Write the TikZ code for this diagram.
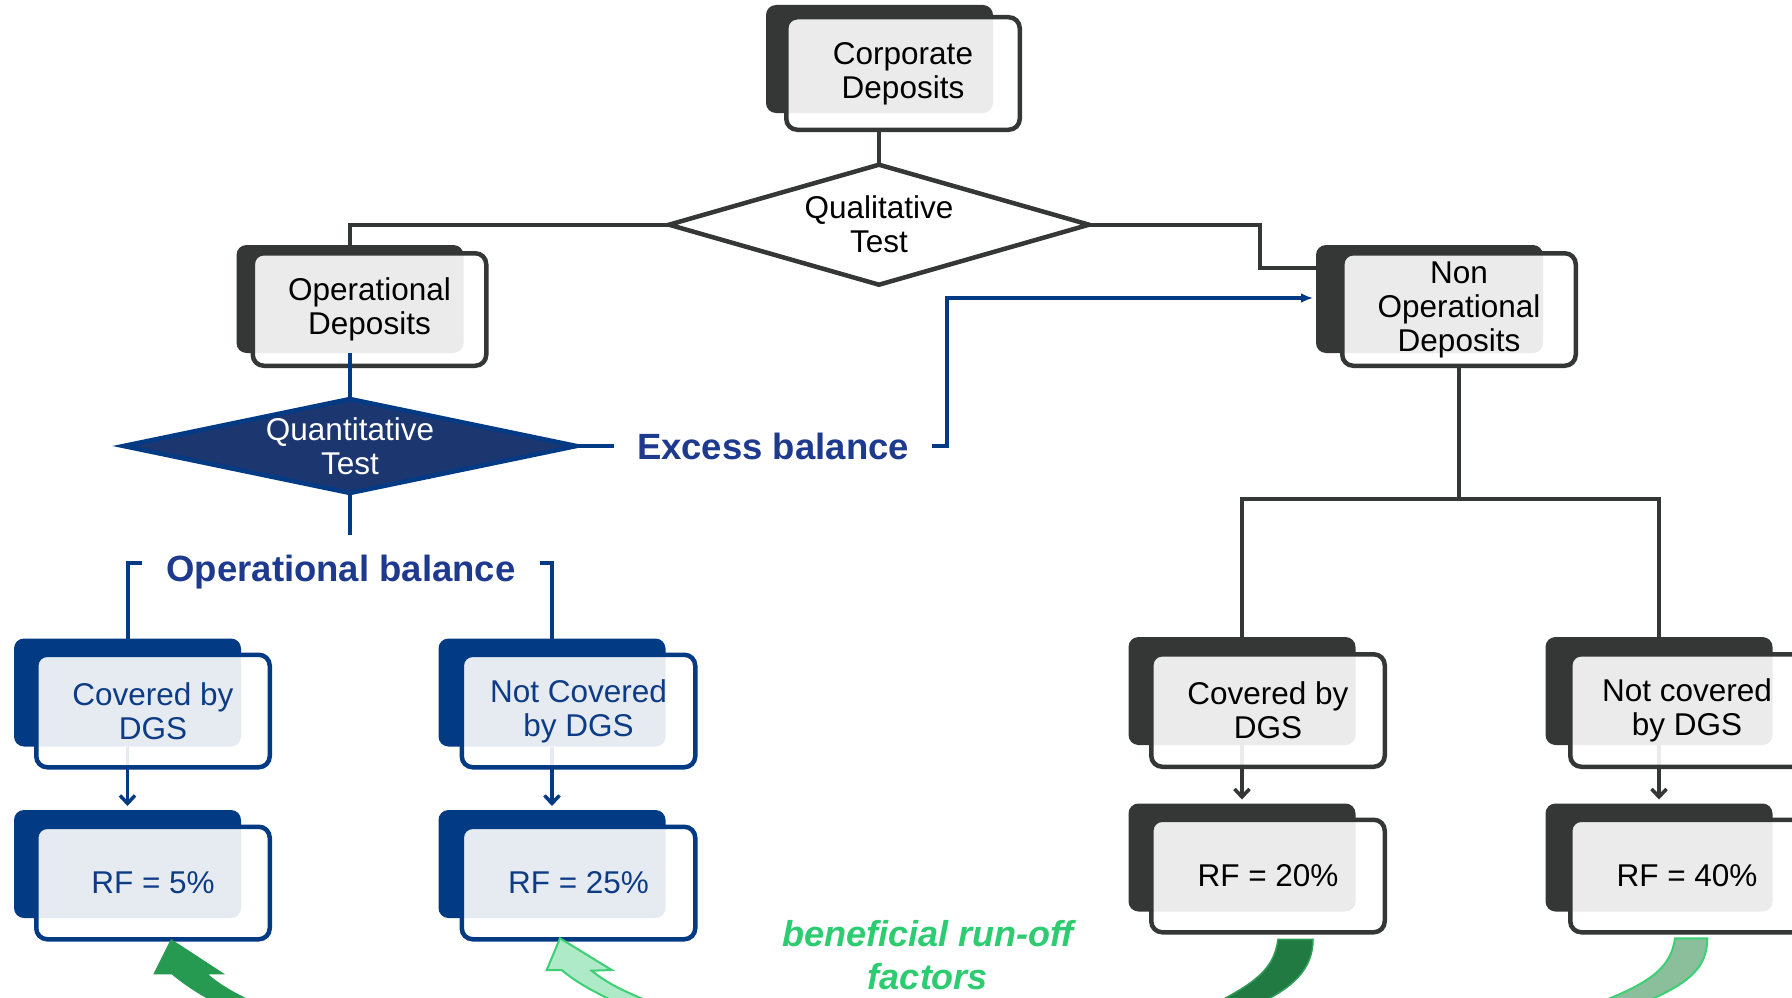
\documentclass[tikz,border=0pt]{standalone}
\usepackage{fontspec}
\setmainfont{Liberation Sans}
\usetikzlibrary{shapes.geometric,arrows.meta,calc}
\definecolor{dk}{HTML}{353636}
\definecolor{bl}{HTML}{023A83}
\definecolor{bltext}{HTML}{0D3B84}
\definecolor{navy}{HTML}{1C3670}
\definecolor{ebtext}{HTML}{1E3A8E}
\definecolor{grtext}{HTML}{2ECC71}
\definecolor{gA}{HTML}{279A52}
\definecolor{gB}{HTML}{AEEAC7}
\definecolor{gBd}{HTML}{3CCF73}
\definecolor{gC}{HTML}{217A42}
\definecolor{gCd}{HTML}{2E9E58}
\definecolor{gD}{HTML}{8BBF9C}
\newcommand\bxfont{\fontsize{31.5}{34}\selectfont}
\newcommand\bgfont{\fontsize{36.5}{40}\selectfont\bfseries}
\pgfdeclarelayer{paper}
\pgfdeclarelayer{back}
\pgfdeclarelayer{conn}
\pgfsetlayers{paper,back,conn,main}
\newcommand\dbox[8]{%
  \begin{pgfonlayer}{back}\node[backbox, fill=#6] (#1b) at (#2,#3) {};\end{pgfonlayer}
  \node[frontbox, draw=#6, text=#7] (#1) at (#4,#5) {#8};}
\tikzset{
  backbox/.style={rounded corners=10pt, minimum width=227pt, minimum height=108pt, inner sep=0pt, outer sep=0pt},
  frontbox/.style={rounded corners=11pt, line width=4.5pt, minimum width=233.5pt, minimum height=112.5pt,
    inner sep=0pt, outer sep=0pt, fill=white, fill opacity=0.9, text opacity=1, align=center, font=\bxfont},
  conn/.style={line width=4pt, draw=dk},
  bconn/.style={line width=4pt, draw=bl},
  barb/.style={-{Straight Barb[length=8pt,width=15pt]}, shorten >=4pt},
}
\begin{document}
\begin{tikzpicture}[x=1pt,y=-1pt]
\useasboundingbox (0,0) rectangle (1792,998);
\begin{pgfonlayer}{paper}
\fill[white] (0,0) rectangle (1792,998);
\end{pgfonlayer}
\clip (0,0) rectangle (1792,998);

% double boxes
\dbox{cd}{879.5}{59}{903}{73.5}{dk}{black}{Corporate\\Deposits}
\dbox{op}{350}{299}{369.5}{309.5}{dk}{black}{Operational\\Deposits}
\dbox{nop}{1429.5}{299}{1459}{309.5}{dk}{black}{Non\\Operational\\Deposits}
\dbox{cov}{127.5}{692.5}{153}{711}{bl}{bltext}{Covered by\\DGS}
\dbox{rfa}{127.5}{864}{153}{883}{bl}{bltext}{RF = 5\%}
\dbox{not}{552}{692.5}{578.5}{711}{bl}{bltext}{Not Covered\\by DGS}
\dbox{rfb}{552}{864}{578.5}{883}{bl}{bltext}{RF = 25\%}
\dbox{gcov}{1242}{691}{1268}{710.5}{dk}{black}{Covered by\\DGS}
\dbox{rfc}{1242}{857.5}{1268}{876}{dk}{black}{RF = 20\%}
\dbox{gnot}{1659}{691}{1687}{710.5}{dk}{black}{Not covered\\by DGS}
\dbox{rfd}{1659}{857.5}{1687}{876}{dk}{black}{RF = 40\%}

% diamonds
\node[diamond, shape aspect=3.43, draw=dk, line width=4.5pt, fill=white, minimum width=420pt,
  minimum height=120pt, inner sep=0pt, outer sep=0pt, align=center, font=\bxfont] (q1) at (879,224.7) {Qualitative\\Test};
\node[diamond, shape aspect=4.6, draw=bl, line width=4.5pt, fill=navy, text=white, minimum width=453pt,
  minimum height=94pt, inner sep=0pt, outer sep=0pt, align=center, font=\bxfont] (qt) at (350,446) {Quantitative\\Test};

% labels
\node[font=\bgfont, text=ebtext, inner xsep=23pt, inner ysep=0pt] (eb) at (773,446) {Excess balance};
\node[font=\bgfont, text=ebtext, inner xsep=24.5pt, inner ysep=0pt] (ob) at (341,572.5) {Operational balance};
\node[font=\fontsize{36}{43}\selectfont\bfseries\itshape, text=grtext, align=center, inner sep=0pt] (bf) at (928,955) {beneficial run-off\\factors};

% blue line from operational deposits
\draw[bconn] (opb.south) -- (qt.north);

% green arrows
\fill[gA] (171,939) -- (225,974.3) -- (208.3,974.3) .. controls (222,986) and (235,993) .. (262,1006)
  -- (232,1012) .. controls (205,998) and (188,988) .. (171.7,974.3) -- (153.3,974.3) -- cycle;
\filldraw[fill=gB, draw=gBd, line width=2pt] (560,938.3) -- (611.7,970) -- (591.7,970.7)
  .. controls (608,984) and (625,992) .. (660,1006) -- (632,1010)
  .. controls (600,995) and (578,984) .. (561.7,970) -- (546.7,970) -- cycle;
\filldraw[fill=gC, draw=gCd, line width=1.5pt] (1278,939.3) .. controls (1274,968) and (1258,982) .. (1210,1006)
  -- (1250,1008) .. controls (1295,988) and (1313,968) .. (1313,939.3) -- cycle;
\filldraw[fill=gD, draw=gBd, line width=2pt] (1675,938.3) .. controls (1671,968) and (1650,984) .. (1590,1006)
  -- (1630,1008) .. controls (1690,985) and (1707,968) .. (1707.3,938.3) -- cycle;

% connectors
\begin{pgfonlayer}{conn}
\draw[conn] (q1.north) -- (q1.north |- cd.south);
\draw[conn] (q1.west) -| (opb.north);
\coordinate (k1) at (1260,267.7);
\draw[conn] (q1.east) -| (k1) -- (k1 -| nopb.west);
\draw[bconn] (qt.east) -- (eb.west);
\coordinate (k2) at (947,298);
\draw[bconn, -{Latex[length=12pt,width=10pt]}, shorten >=3pt] (eb.east) -| (k2) -- (k2 -| nopb.west);
\coordinate (k3) at (350,535);
\draw[bconn] (qt.south) -- (k3);
\draw[bconn] ([yshift=9.5pt]ob.west) -| (covb.north);
\draw[bconn] ([yshift=9.5pt]ob.east) -| (notb.north);
\draw[bconn, line width=3.5pt, barb] (covb.south) -- (rfab.north);
\draw[bconn, line width=3.5pt, barb] (notb.south) -- (rfbb.north);
\coordinate (j) at (1459,499.4);
\draw[conn] (nop.south) -- (j);
\draw[conn] (gcovb.north) |- (j) -| (gnotb.north);
\draw[conn, line width=3.5pt, barb] (gcovb.south) -- (rfcb.north);
\draw[conn, line width=3.5pt, barb] (gnotb.south) -- (rfdb.north);
\end{pgfonlayer}
\end{tikzpicture}
\end{document}
